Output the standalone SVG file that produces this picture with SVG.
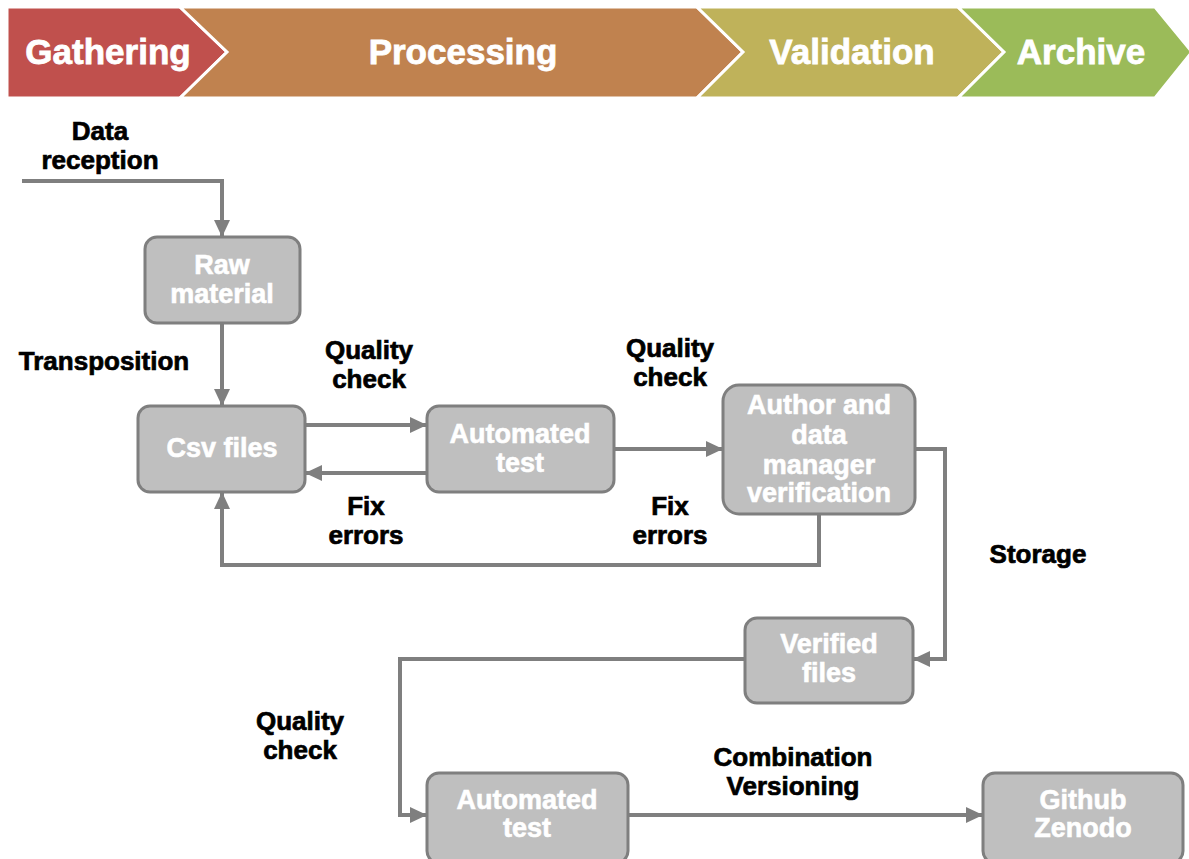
<svg xmlns="http://www.w3.org/2000/svg" width="1189" height="859" viewBox="0 0 1189 859">
  <style>
    .stage { stroke: #FFFFFF; stroke-width: 3; stroke-linejoin: miter; }
    .stage-text { font-family: "Liberation Sans", Arial, sans-serif; font-weight: bold; font-size: 35px; fill: #FFFFFF; stroke: #FFFFFF; stroke-width: 0.8; text-anchor: middle; }
    .box { fill: #BFBFBF; stroke: #7F7F7F; stroke-width: 3; }
    .box-text { font-family: "Liberation Sans", Arial, sans-serif; font-weight: bold; font-size: 27px; fill: #FFFFFF; stroke: #FFFFFF; stroke-width: 0.6; text-anchor: middle; }
    .label { font-family: "Liberation Sans", Arial, sans-serif; font-weight: bold; font-size: 26px; fill: #000000; stroke: #000000; stroke-width: 0.7; text-anchor: middle; }
    .link { fill: none; stroke: #7F7F7F; stroke-width: 4; stroke-linejoin: miter; }
  </style>
  <defs>
    <marker id="arrow" markerUnits="userSpaceOnUse" markerWidth="18" markerHeight="18" viewBox="0 0 18 18" refX="16" refY="9" orient="auto">
      <path d="M0,1 L17,9 L0,17 Z" fill="#7F7F7F"/>
    </marker>
  </defs>

  <!-- phase banner -->
  <g id="phases">
    <polygon class="stage" fill="#C0504D" points="7,7 180,7 227,52 180,98 7,98"/>
    <polygon class="stage" fill="#C0824F" points="180,7 697,7 743,52 697,98 180,98 227,52"/>
    <polygon class="stage" fill="#BFB25A" points="697,7 958,7 1004,52 958,98 697,98 743,52"/>
    <polygon class="stage" fill="#9BBB59" points="958,7 1155,7 1192,52 1155,98 958,98 1004,52"/>
    <text class="stage-text" x="108" y="64">Gathering</text>
    <text class="stage-text" x="463" y="64">Processing</text>
    <text class="stage-text" x="852" y="64">Validation</text>
    <text class="stage-text" x="1081" y="64">Archive</text>
  </g>

  <!-- connectors -->
  <g id="connectors">
    <path class="link" d="M22,181 H222 V236" marker-end="url(#arrow)"/>
    <path class="link" d="M222,323 V405" marker-end="url(#arrow)"/>
    <path class="link" d="M305,425 H426" marker-end="url(#arrow)"/>
    <path class="link" d="M427,473 H306" marker-end="url(#arrow)"/>
    <path class="link" d="M614,449 H722" marker-end="url(#arrow)"/>
    <path class="link" d="M819,514 V565 H222 V493" marker-end="url(#arrow)"/>
    <path class="link" d="M915,449 H945 V659 H914" marker-end="url(#arrow)"/>
    <path class="link" d="M745,659 H400 V815 H426" marker-end="url(#arrow)"/>
    <path class="link" d="M628,815 H982" marker-end="url(#arrow)"/>
  </g>

  <!-- connector labels -->
  <g id="labels">
    <text class="label" x="100" y="140">Data</text>
    <text class="label" x="100" y="169">reception</text>
    <text class="label" x="104" y="370">Transposition</text>
    <text class="label" x="369" y="359">Quality</text>
    <text class="label" x="369" y="388">check</text>
    <text class="label" x="366" y="515">Fix</text>
    <text class="label" x="366" y="544">errors</text>
    <text class="label" x="670" y="357">Quality</text>
    <text class="label" x="670" y="386">check</text>
    <text class="label" x="670" y="515">Fix</text>
    <text class="label" x="670" y="544">errors</text>
    <text class="label" x="1038" y="563">Storage</text>
    <text class="label" x="300" y="730">Quality</text>
    <text class="label" x="300" y="759">check</text>
    <text class="label" x="793" y="766">Combination</text>
    <text class="label" x="793" y="795">Versioning</text>
  </g>

  <!-- nodes -->
  <g id="raw-material">
    <rect class="box" x="145" y="237" width="155" height="86" rx="12"/>
    <text class="box-text" x="222" y="274">Raw</text>
    <text class="box-text" x="222" y="303">material</text>
  </g>
  <g id="csv-files">
    <rect class="box" x="138" y="406" width="167" height="86" rx="12"/>
    <text class="box-text" x="222" y="457">Csv files</text>
  </g>
  <g id="automated-test-1">
    <rect class="box" x="427" y="406" width="187" height="86" rx="12"/>
    <text class="box-text" x="520" y="443">Automated</text>
    <text class="box-text" x="520" y="472">test</text>
  </g>
  <g id="verification">
    <rect class="box" x="723" y="385" width="192" height="129" rx="16"/>
    <text class="box-text" x="819" y="414">Author and</text>
    <text class="box-text" x="819" y="444">data</text>
    <text class="box-text" x="819" y="474">manager</text>
    <text class="box-text" x="819" y="502">verification</text>
  </g>
  <g id="verified-files">
    <rect class="box" x="745" y="618" width="168" height="85" rx="12"/>
    <text class="box-text" x="829" y="653">Verified</text>
    <text class="box-text" x="829" y="682">files</text>
  </g>
  <g id="automated-test-2">
    <rect class="box" x="427" y="773" width="201" height="90" rx="12"/>
    <text class="box-text" x="527" y="809">Automated</text>
    <text class="box-text" x="527" y="837">test</text>
  </g>
  <g id="github-zenodo">
    <rect class="box" x="983" y="773" width="200" height="90" rx="12"/>
    <text class="box-text" x="1083" y="809">Github</text>
    <text class="box-text" x="1083" y="837">Zenodo</text>
  </g>
</svg>
